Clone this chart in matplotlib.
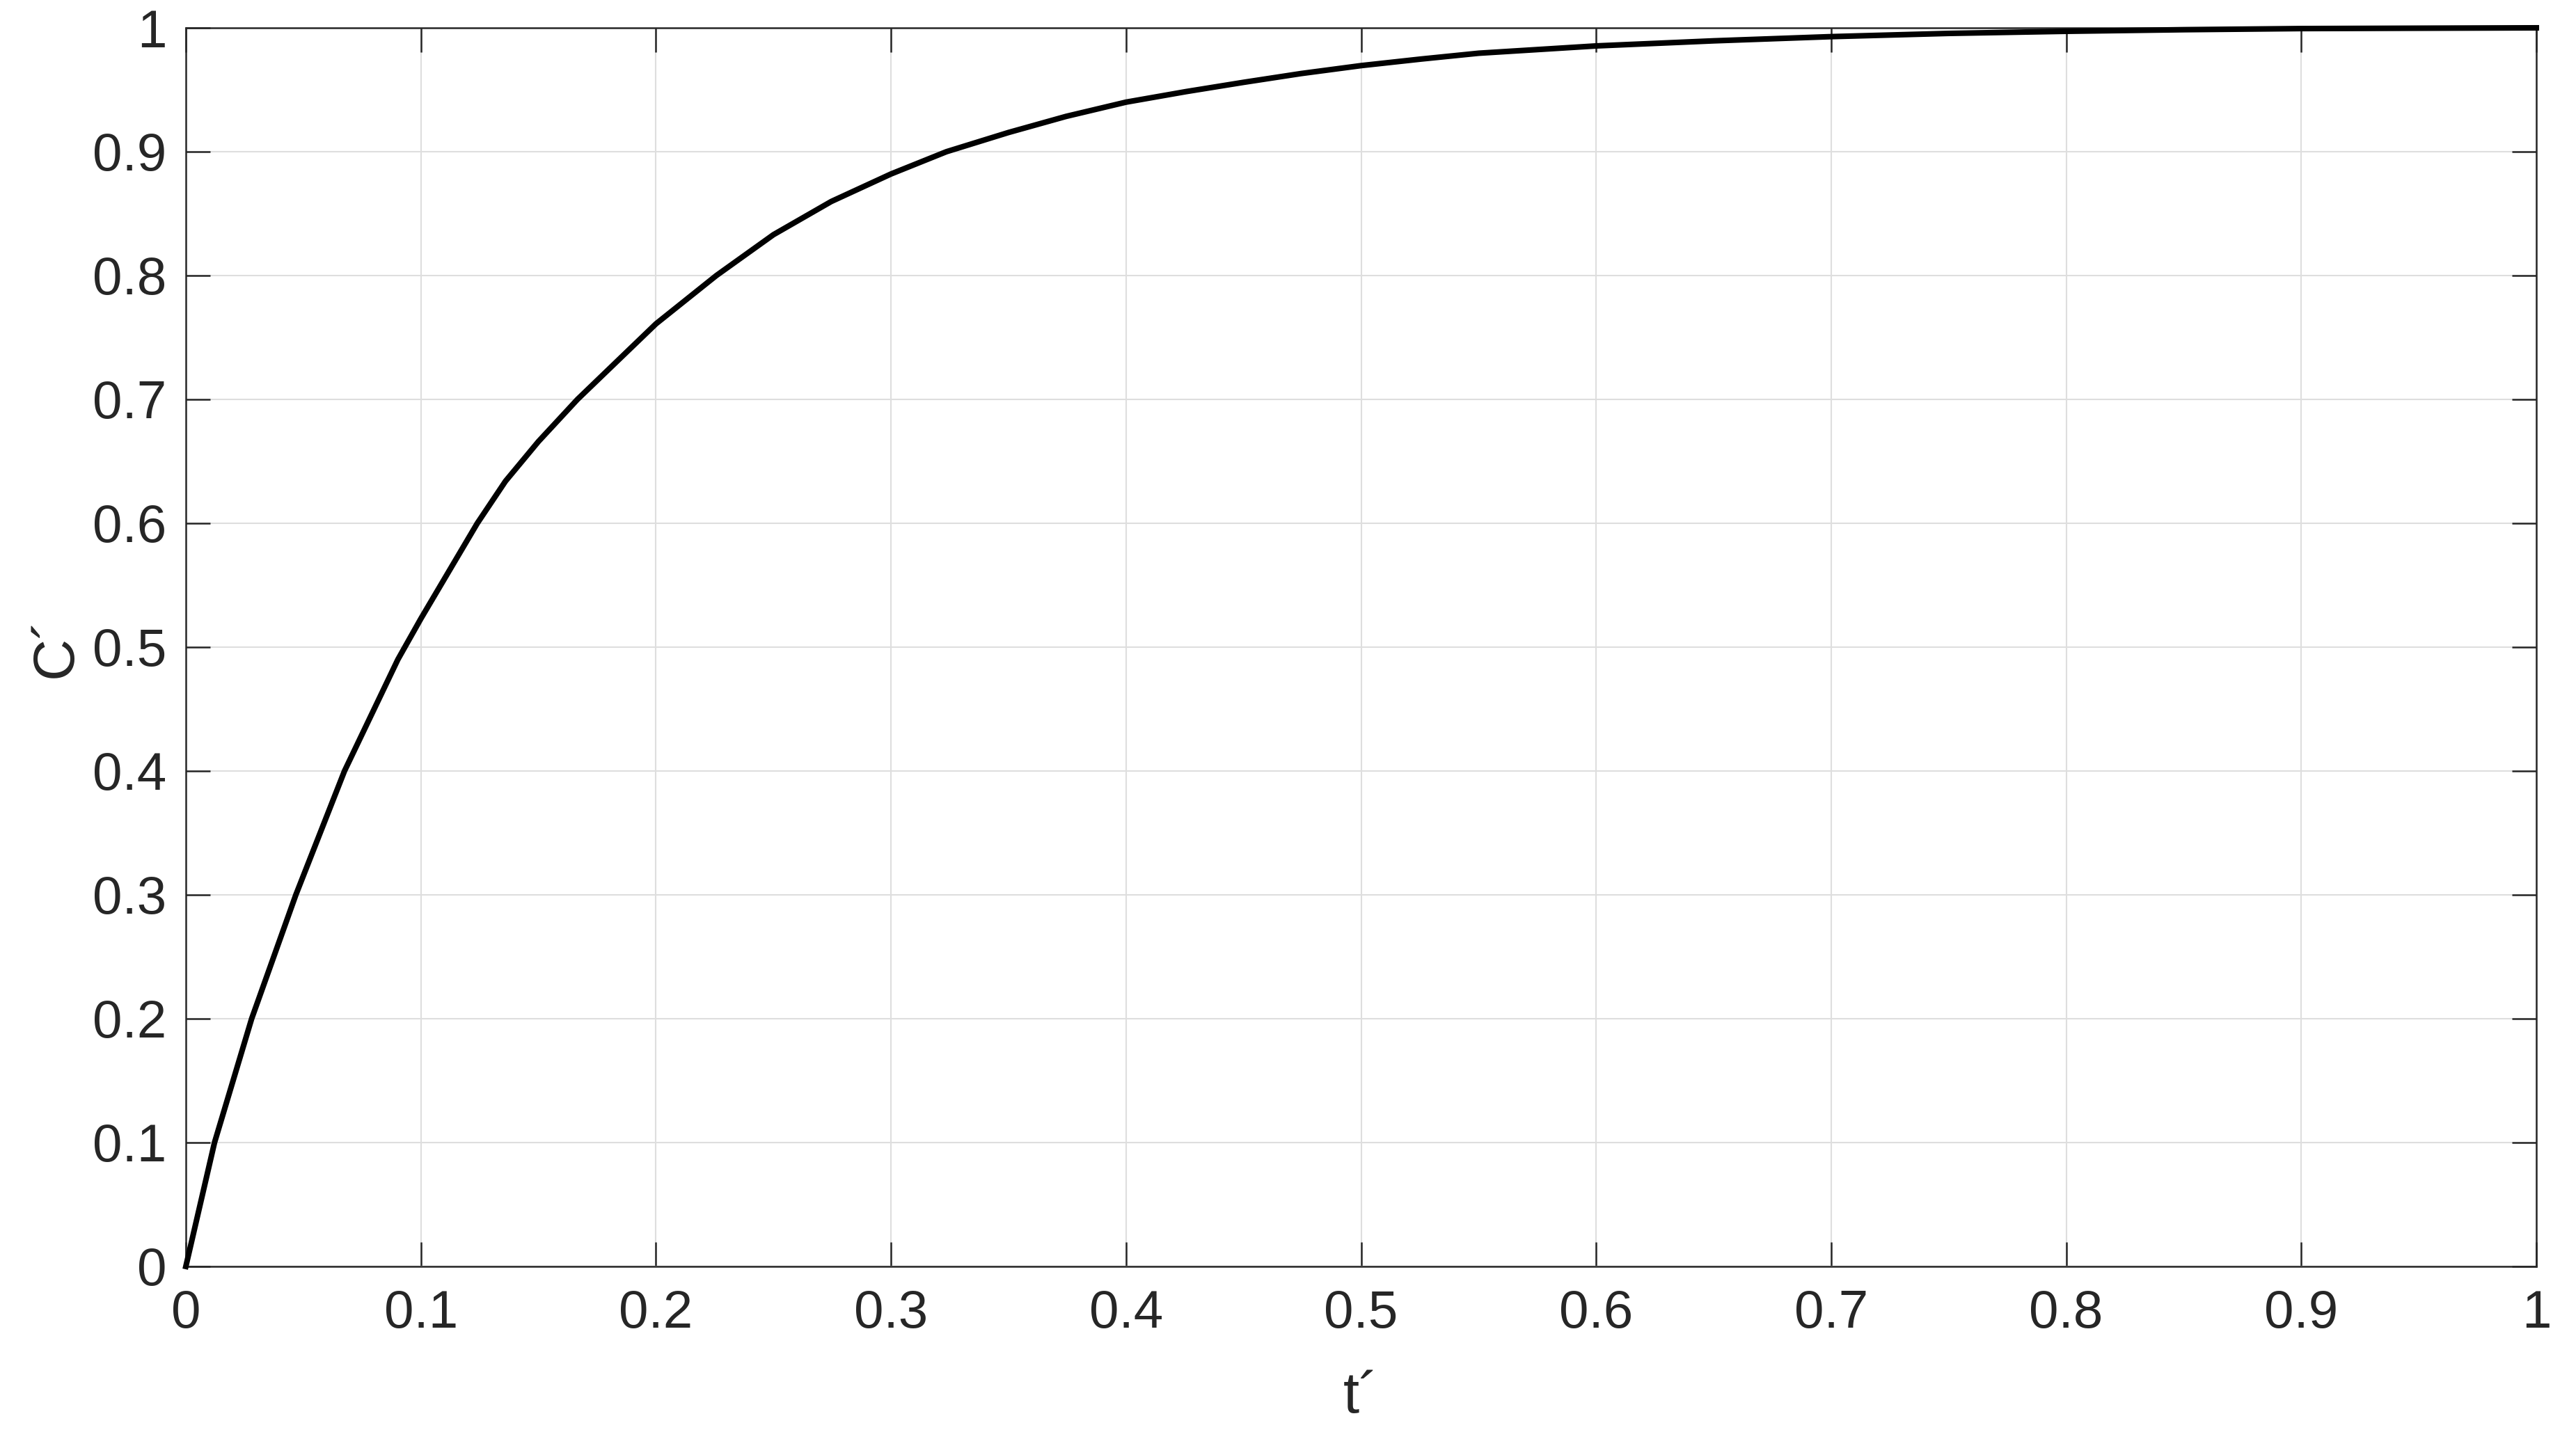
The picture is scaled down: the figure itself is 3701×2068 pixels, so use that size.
import matplotlib
matplotlib.use("Agg")
import matplotlib.pyplot as plt
from matplotlib.ticker import FixedLocator, FuncFormatter

# values
t_vals = [0, 0.0122, 0.028, 0.0468, 0.0675, 0.0902, 0.1, 0.124, 0.136, 0.15,
          0.1666, 0.2, 0.2257, 0.25, 0.2746, 0.3, 0.3236, 0.35, 0.3745, 0.4,
          0.4255, 0.45, 0.4745, 0.5, 0.5255, 0.55, 0.6, 0.65, 0.7, 0.75,
          0.8, 0.85, 0.9, 1.0]
c_vals = [0, 0.1, 0.2, 0.3, 0.4, 0.49, 0.523, 0.6, 0.634, 0.666,
          0.7, 0.761, 0.8, 0.833, 0.8598, 0.882, 0.9, 0.9155, 0.9285, 0.94,
          0.9485, 0.956, 0.9631, 0.9695, 0.9748, 0.9795, 0.9854, 0.9895, 0.9929, 0.9955,
          0.9972, 0.9985, 0.9994, 1.0]

ticks = [0, 0.1, 0.2, 0.3, 0.4, 0.5, 0.6, 0.7, 0.8, 0.9, 1.0]
xlabel = "t\u00b4"
ylabel = "C\u00b4"

dark = "#262626"
plt.rcParams["font.family"] = ["Liberation Sans", "DejaVu Sans"]

fig = plt.figure(figsize=(37.01, 20.68), dpi=100)
ax = fig.add_axes([267 / 3701, 1 - 1820 / 2068, 3377 / 3701, 1780 / 2068])

ax.plot(t_vals, c_vals, color="black", lw=5.8, clip_on=False, zorder=3,
        solid_joinstyle="round")

ax.set_xlim(0, 1)
ax.set_ylim(0, 1)
ax.xaxis.set_major_locator(FixedLocator(ticks))
ax.yaxis.set_major_locator(FixedLocator(ticks))
fmt = FuncFormatter(lambda v, p: "%g" % round(v, 2))
ax.xaxis.set_major_formatter(fmt)
ax.yaxis.set_major_formatter(fmt)

ax.grid(True, color="#dedede", lw=1.5, zorder=0)
ax.set_axisbelow(True)
for s in ax.spines.values():
    s.set_color(dark)
    s.set_linewidth(1.8)

ax.tick_params(axis="both", which="major", direction="in", length=25, width=1.8,
               color=dark, labelcolor=dark, labelsize=55, top=True, right=True)
ax.tick_params(axis="x", pad=24)
ax.tick_params(axis="y", pad=20)

ax.set_xlabel(xlabel, fontsize=60, color=dark)
ax.set_ylabel(ylabel, fontsize=60, color=dark)
ax.xaxis.label.set_va("baseline")
ax.yaxis.label.set_va("baseline")
ax.xaxis.set_label_coords(0.5, (1820 - 2030) / 1780)
ax.yaxis.set_label_coords((103 - 267) / 3377, 0.5)

fig.savefig("out.png", dpi=100, facecolor="white")
